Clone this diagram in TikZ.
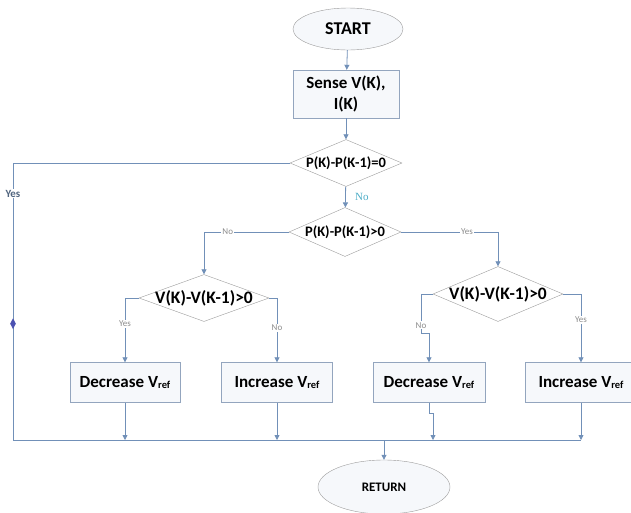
\documentclass[tikz,border=0pt]{standalone}
\usepackage{xcolor}
\usepackage{fontspec}
\setmainfont{Carlito}
\newfontfamily\serifno{Liberation Serif}
\usepackage{tikz}
\usetikzlibrary{shapes.geometric, arrows.meta, positioning, calc}
\definecolor{flowline}{HTML}{7190B8}
\definecolor{boxedge}{HTML}{93A5BE}
\definecolor{boxfill}{HTML}{F6F8FB}
\definecolor{diaedge}{HTML}{9C9C9C}
\definecolor{labelgray}{HTML}{8C8C8C}
\definecolor{yesdark}{HTML}{51657F}
\definecolor{nocyan}{HTML}{4BACC6}
\definecolor{markblue}{HTML}{4C52B2}
\newcommand{\vref}{V\raisebox{-1.5pt}{\fontsize{10.5}{10.5}\selectfont ref}}
\newcommand{\dtext}[1]{\makebox[0pt]{#1}}

\begin{document}
\begin{tikzpicture}[x=1pt, y=-1pt,
  terminal/.style={ellipse, draw=diaedge, fill=boxfill, inner sep=0pt, font=\bfseries},
  procbox/.style={rectangle, draw=boxedge, fill=boxfill, inner sep=0pt, align=center, font=\bfseries\fontsize{17}{21}\selectfont},
  decision/.style={diamond, draw=diaedge, fill=white, inner sep=0pt, font=\bfseries},
  flow/.style={draw=flowline, line width=0.8pt, -{Triangle[width=5pt, length=5pt]}},
  plain/.style={draw=flowline, line width=0.8pt},
  branchlbl/.style={fill=white, inner sep=1pt, text=labelgray, font=\fontsize{9}{10}\selectfont}]
  \useasboundingbox (0,0) rectangle (631,512);

  \node[terminal, minimum width=110pt, minimum height=42pt, font=\bfseries\fontsize{18}{20}\selectfont] (start) at (348,29) {START};
  \node[procbox, minimum width=106pt, minimum height=48pt] (sense) at (346,94) {Sense V(K),\\I(K)};
  \node[decision, minimum width=112pt, minimum height=47pt, font=\bfseries\fontsize{14.5}{16}\selectfont] (chkzero) at (346,163) {\dtext{P(K)-P(K-1)=0}};
  \node[decision, minimum width=112pt, minimum height=49pt, font=\bfseries\fontsize{14.5}{16}\selectfont] (chksign) at (345,232) {\dtext{P(K)-P(K-1)>0}};
  \node[decision, minimum width=130pt, minimum height=47pt, font=\bfseries\fontsize{17.5}{19}\selectfont] (chkvl) at (204,298) {\dtext{V(K)-V(K-1)>0}};
  \node[decision, minimum width=130pt, minimum height=55pt, font=\bfseries\fontsize{17.5}{19}\selectfont] (chkvr) at (498,294) {\dtext{V(K)-V(K-1)>0}};
  \node[procbox, minimum width=110pt, minimum height=40pt] (decl) at (125,382.5) {Decrease \vref};
  \node[procbox, minimum width=111pt, minimum height=40pt] (incl) at (277,382.5) {Increase \vref};
  \node[procbox, minimum width=112pt, minimum height=40pt] (decr) at (429,382.5) {Decrease \vref};
  \node[procbox, minimum width=112pt, minimum height=40pt] (incr) at (581,382.5) {Increase \vref};
  \node[terminal, minimum width=132pt, minimum height=54pt, font=\bfseries\fontsize{13}{15}\selectfont] (ret) at (384,487) {RETURN};

  \coordinate (ltop) at (13,163);
  \coordinate (lbot) at (13,440);
  \coordinate (rbot) at (581,440);
  \coordinate (merge) at (384,440);
  \coordinate (vrjog) at (421,333);
  \coordinate (drjog) at (433,413);

  \draw[flow] (start) -- (sense);
  \draw[flow] (sense) -- (chkzero);
  \draw[flow] (chkzero) -- node[right=6pt, text=nocyan, font=\serifno\fontsize{11}{12}\selectfont] {No} (chksign);
  \draw[plain] (chkzero.west) -- (ltop)
    -- node[pos=0.11, fill=white, inner sep=1pt, text=yesdark, font=\bfseries\fontsize{11}{12}\selectfont] {Yes}
       node[pos=0.58, diamond, fill=markblue, inner sep=0pt, minimum width=6pt, minimum height=11pt] {} (lbot)
    -- (rbot);
  \draw[flow] (chksign.west) -| node[pos=0.36, branchlbl] {No} (chkvl.north);
  \draw[flow] (chksign.east) -| node[pos=0.34, branchlbl] {Yes} (chkvr.north);
  \draw[flow] (chkvl.west) -| node[pos=0.7, branchlbl] {Yes} (decl.north);
  \draw[flow] (chkvl.east) -| node[pos=0.73, branchlbl] {No} (incl.north);
  \draw[plain] (chkvr.west) -| node[pos=0.9, branchlbl] {No} (vrjog);
  \draw[flow] (vrjog) -| (decr.north);
  \draw[flow] (chkvr.east) -| node[pos=0.69, branchlbl] {Yes} (incr.north);

  \draw[flow] (decl) -- (decl |- lbot);
  \draw[flow] (incl) -- (incl |- lbot);
  \draw[plain] (decr) |- (drjog);
  \draw[flow] (drjog) -- (drjog |- lbot);
  \draw[flow] (incr) -- (incr |- lbot);
  \draw[flow] (merge) -- (ret);
\end{tikzpicture}
\end{document}
